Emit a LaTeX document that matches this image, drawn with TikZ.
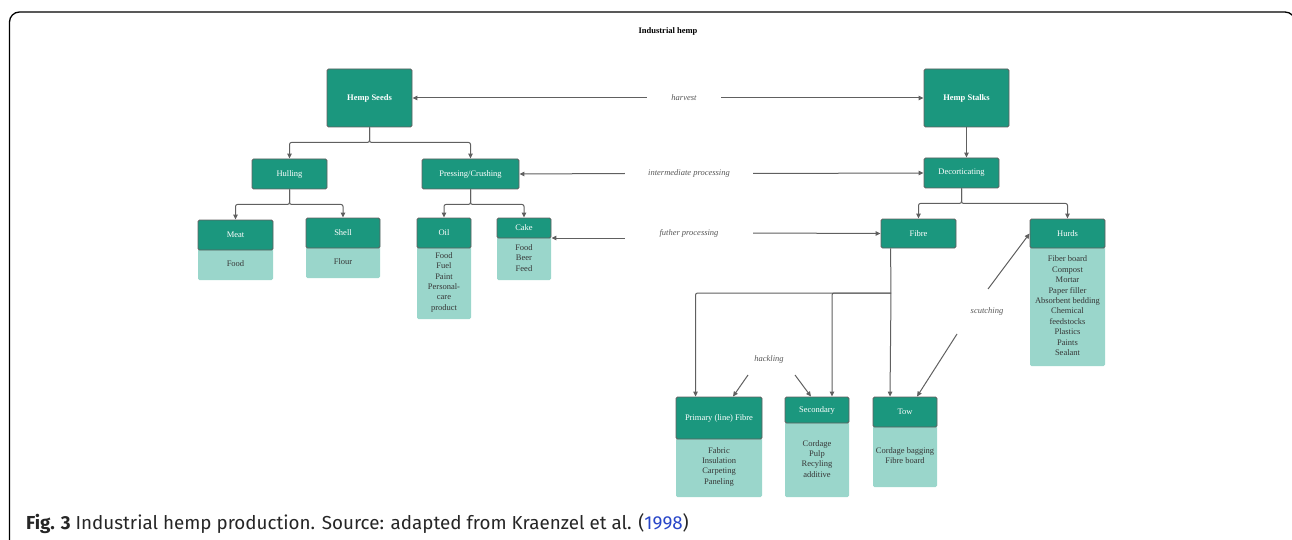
\documentclass[tikz,border=0pt]{standalone}
\usepackage{fontspec}
\setmainfont{Liberation Serif}
\newfontfamily\capfont{Fira Sans}
\usetikzlibrary{arrows.meta}

\definecolor{hempdark}{RGB}{27,151,126}
\definecolor{hemplight}{RGB}{154,214,203}
\definecolor{hempline}{RGB}{96,96,96}
\definecolor{hemptext}{RGB}{55,55,55}
\definecolor{citeblue}{RGB}{40,70,200}

\begin{document}
\begin{tikzpicture}[x=1pt, y=-1pt,
    head/.style={draw=hempline, line width=0.9pt, fill=hempdark, text=white,
        rounded corners=1.5pt, inner sep=0pt, font=\fontsize{8.5}{10.4}\selectfont},
    body/.style={fill=hemplight, text=hemptext, rounded corners=1.5pt, inner sep=0pt,
        align=center, anchor=north, font=\fontsize{8.5}{10.4}\selectfont},
    proc/.style={fill=white, text=hemptext!85, inner sep=0pt,
        font=\itshape\fontsize{8.5}{10.4}\selectfont},
    conn/.style={draw=hempline, line width=1pt, rounded corners=2pt,
        -{Triangle[length=5pt,width=4.5pt]}}]
    \useasboundingbox (0,0) rectangle (1292,540);

    % outer frame
    \draw[line width=1.3pt, rounded corners=10pt] (9.5,12) rectangle (1295,550);
    \node[font=\bfseries\fontsize{8.5}{10}\selectfont] (title) at (668,31) {Industrial hemp};

    % seed side
    \node[head, font=\bfseries\fontsize{8.5}{10.4}\selectfont, minimum width=85pt, minimum height=58pt] (seeds) at (369.5,98) {Hemp Seeds};
    \node[head, minimum width=75pt, minimum height=30pt] (hulling) at (289.5,174) {Hulling};
    \node[head, minimum width=97pt, minimum height=30pt] (pressing) at (470.5,174) {Pressing/Crushing};

    \node[body, minimum width=75pt, minimum height=33pt] (meatuse) at (235.5,247) {Food};
    \node[head, minimum width=75pt, minimum height=30pt] (meat) at (235.5,235) {Meat};
    \node[body, minimum width=74pt, minimum height=33pt] (shelluse) at (343,245) {Flour};
    \node[head, minimum width=74pt, minimum height=30pt] (shell) at (343,233) {Shell};
    \node[body, minimum width=54pt, minimum height=74pt] (oiluse) at (444,245) {Food\\Fuel\\Paint\\Personal-\\care\\product};
    \node[head, minimum width=54pt, minimum height=30pt] (oil) at (444,233) {Oil};
    \node[body, minimum width=54pt, minimum height=45pt] (cakeuse) at (524,235) {Food\\Beer\\Feed};
    \node[head, minimum width=54pt, minimum height=20pt] (cake) at (524,228) {Cake};

    % stalk side
    \node[head, font=\bfseries\fontsize{8.5}{10.4}\selectfont, minimum width=85pt, minimum height=58pt] (stalks) at (966.5,98) {Hemp Stalks};
    \node[head, minimum width=75pt, minimum height=30pt] (decort) at (961.5,173) {Decorticating};
    \node[head, minimum width=75pt, minimum height=29pt] (fibre) at (918.5,233.5) {Fibre};
    \node[body, minimum width=75pt, minimum height=121pt] (hurdsuse) at (1067.5,245) {Fiber board\\Compost\\Mortar\\Paper filler\\Absorbent bedding\\Chemical\\feedstocks\\Plastics\\Paints\\Sealant};
    \node[head, minimum width=75pt, minimum height=29pt] (hurds) at (1067.5,233.5) {Hurds};

    \node[body, minimum width=86pt, minimum height=61pt] (primaryuse) at (719,436) {Fabric\\Insulation\\Carpeting\\Paneling};
    \node[head, minimum width=86pt, minimum height=42pt] (primary) at (719,418) {Primary (line) Fibre};
    \node[body, minimum width=64pt, minimum height=77pt] (secondaryuse) at (817,420) {Cordage\\Pulp\\Recyling\\additive};
    \node[head, minimum width=64pt, minimum height=26pt] (secondary) at (817,410) {Secondary};
    \node[body, minimum width=64pt, minimum height=63pt] (towuse) at (905,424) {Cordage bagging\\Fibre board};
    \node[head, minimum width=64pt, minimum height=30pt] (tow) at (905,412) {Tow};

    % process labels
    \node[proc, minimum width=74pt] (hv) at (684,98) {harvest};
    \node[proc, minimum width=128pt] (ip) at (689,173.5) {intermediate processing};
    \node[proc, minimum width=128pt] (fp) at (689,233) {futher processing};
    \node[proc] (hk) at (769,359) {hackling};
    \node[proc] (sc) at (987,311) {scutching};

    % tree connectors
    \draw[conn] (seeds.south) -- ++(0,15) -| (hulling.north);
    \draw[conn] (seeds.south) -- ++(0,15) -| (pressing.north);
    \draw[conn] (hulling.south) -- ++(0,15) -| (meat.north);
    \draw[conn] (hulling.south) -- ++(0,15) -| (shell.north);
    \draw[conn] (pressing.south) -- ++(0,15) -| (oil.north);
    \draw[conn] (pressing.south) -- ++(0,15) -| (cake.north);
    \draw[conn] (stalks.south) -- (stalks.south |- decort.north);
    \draw[conn] (decort.south) -- ++(0,15) -| (fibre.north);
    \draw[conn] (decort.south) -- ++(0,15) -| (hurds.north);

    \coordinate (split) at (891,293);
    \draw[conn] ([xshift=10pt]fibre.south west) -- (split) -- ([xshift=-15pt]tow.north);
    \draw[conn] (split) -| ([xshift=20pt]primary.north west);
    \draw[conn] (split) -| ([xshift=15pt]secondary.north);

    % labelled steps
    \draw[conn] (hv.west) -- (seeds.east);
    \draw[conn] (hv.east) -- (stalks.west);
    \draw[conn] (ip.west) -- (pressing.east);
    \draw[conn] (ip.east) -- (decort.west);
    \draw[conn] (fp.east) -- (fibre.west);
    \draw[conn] ([yshift=-5pt]fp.west) -- ([yshift=-10pt]cake.east);
    \draw[conn] ([shift={(-21,16)}]hk.center) -- ([xshift=14pt]primary.north);
    \draw[conn] ([shift={(26,16)}]hk.center) -- ([xshift=-6pt]secondary.north);
    \draw[conn] ([shift={(-30,23)}]sc.center) -- ([xshift=12pt]tow.north);
    \draw[conn] ([shift={(1,-22)}]sc.center) -- (hurds.west);

    % caption
    \node[anchor=base west, inner sep=0pt, text=black!85, font=\capfont\fontsize{18.8}{22}\selectfont] (caption) at (26,529)
        {\textbf{Fig. 3} Industrial hemp production. Source: adapted from Kraenzel et al. (\textcolor{citeblue}{1998})};
\end{tikzpicture}
\end{document}
